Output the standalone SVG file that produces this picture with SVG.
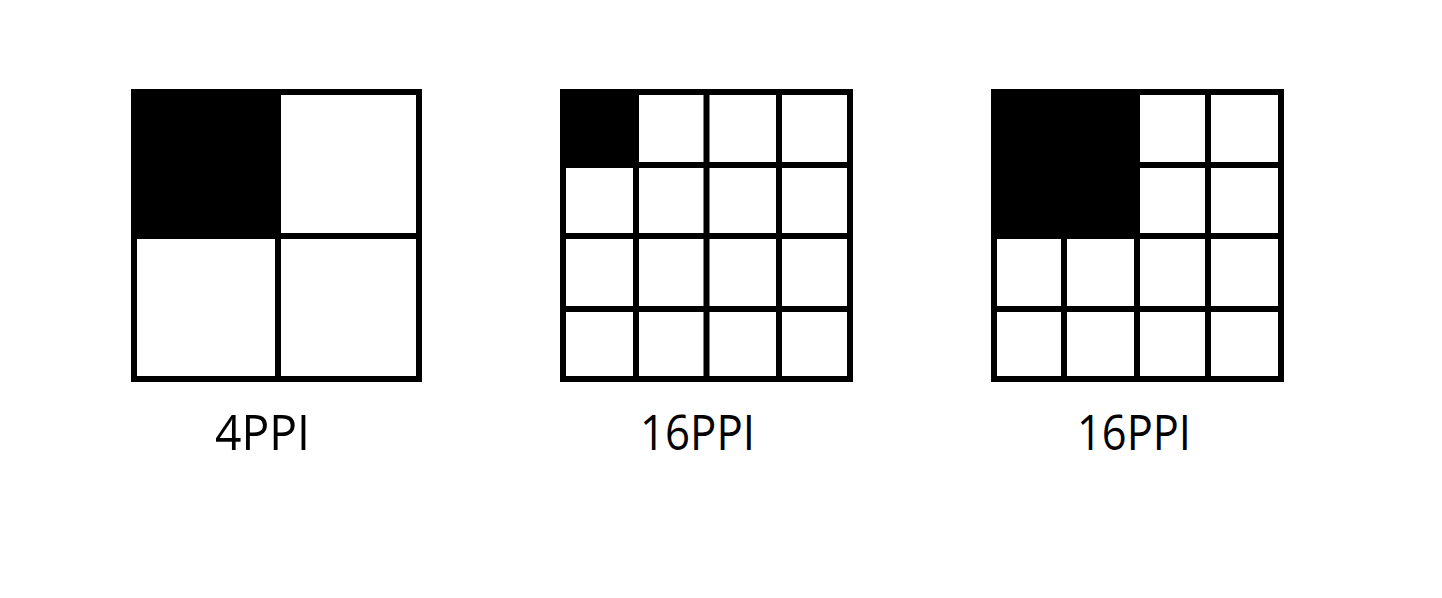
<svg xmlns="http://www.w3.org/2000/svg" width="1442" height="598" viewBox="0 0 1442 598">
<style>
.g{fill:none;stroke:#000;stroke-width:6}
.b{fill:#000}
.t{font-family:"Open Sans","Noto Sans",sans-serif;font-size:50px;fill:#000}
</style>
<rect width="1442" height="598" fill="#fff"/>
<g id="grid-4ppi">
<rect class="b" x="134" y="92" width="144" height="144"/>
<rect class="g" x="134" y="92" width="285" height="287"/>
<line class="g" x1="278" y1="92" x2="278" y2="379"/>
<line class="g" x1="134" y1="236" x2="419" y2="236"/>
<text class="t" x="215" y="450" textLength="95" lengthAdjust="spacingAndGlyphs">4PPI</text>
</g>
<g id="grid-16ppi-a">
<rect class="b" x="563" y="92" width="73" height="73"/>
<rect class="g" x="563" y="92" width="287" height="287"/>
<line class="g" x1="636" y1="92" x2="636" y2="379"/>
<line class="g" x1="706.5" y1="92" x2="706.5" y2="379"/>
<line class="g" x1="779" y1="92" x2="779" y2="379"/>
<line class="g" x1="563" y1="165" x2="850" y2="165"/>
<line class="g" x1="563" y1="236" x2="850" y2="236"/>
<line class="g" x1="563" y1="309" x2="850" y2="309"/>
<text class="t" x="640" y="450" textLength="115" lengthAdjust="spacingAndGlyphs">16PPI</text>
</g>
<g id="grid-16ppi-b">
<rect class="b" x="994" y="92" width="143" height="144"/>
<rect class="g" x="994" y="92" width="287" height="287"/>
<line class="g" x1="1064" y1="236" x2="1064" y2="379"/>
<line class="g" x1="1137" y1="92" x2="1137" y2="379"/>
<line class="g" x1="1208" y1="92" x2="1208" y2="379"/>
<line class="g" x1="1137" y1="165" x2="1281" y2="165"/>
<line class="g" x1="994" y1="236" x2="1281" y2="236"/>
<line class="g" x1="994" y1="309" x2="1281" y2="309"/>
<text class="t" x="1077" y="450" textLength="114" lengthAdjust="spacingAndGlyphs">16PPI</text>
</g>
</svg>
